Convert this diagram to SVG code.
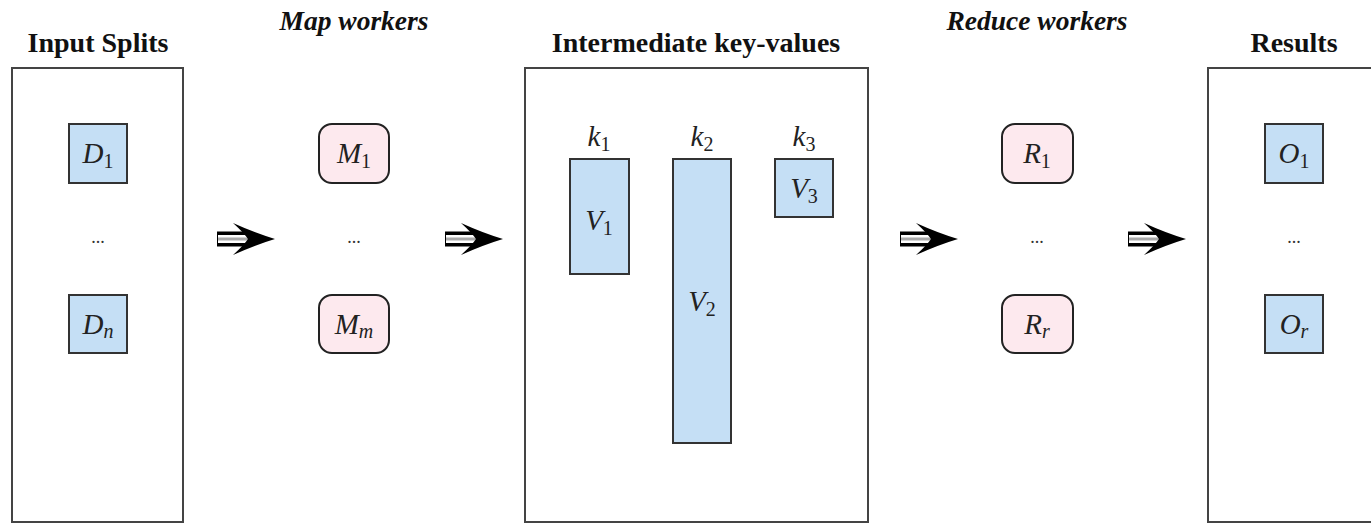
<svg xmlns="http://www.w3.org/2000/svg" xmlns:xlink="http://www.w3.org/1999/xlink" width="1371" height="524" viewBox="0 0 1371 524">
<style>
.hdr{font-family:"Liberation Serif",serif;font-weight:bold;font-size:28px;fill:#111;text-anchor:middle}
.hdri{font-family:"Liberation Serif",serif;font-weight:bold;font-style:italic;font-size:27.5px;fill:#111;text-anchor:middle}
.frame{fill:#fff;stroke:#444;stroke-width:2}
.blue{fill:#c5dff5;stroke:#333;stroke-width:2}
.pink{fill:#fde9ee;stroke:#222;stroke-width:2}
.m{font-family:"Liberation Serif",serif;font-style:italic;font-size:29px;fill:#222;text-anchor:middle}
.sub{font-style:normal;font-size:20px}
.subi{font-size:20px}
.dots{font-family:"Liberation Serif",serif;font-size:18px;fill:#333;text-anchor:middle}
</style>
<defs>
<g id="arr">
<line x1="-58" y1="0" x2="-24" y2="0" stroke="#000" stroke-width="15"/>
<line x1="-57" y1="0" x2="-24" y2="0" stroke="#fff" stroke-width="8"/>
<line x1="-57" y1="0" x2="-24" y2="0" stroke="#aaa" stroke-width="3"/>
<path d="M0 0 Q-20 -6 -42 -16 Q-31 -6 -27 0 Q-31 6 -42 16 Q-20 6 0 0 Z" fill="#000"/>
</g>
</defs>
<rect width="1371" height="524" fill="#fff"/>

<g id="input-splits">
<text class="hdr" x="98" y="52">Input Splits</text>
<rect class="frame" x="12" y="68" width="171" height="454"/>
<g id="D1"><rect class="blue" x="69" y="124" width="58" height="59"/><text class="m" x="98" y="163">D<tspan class="sub" dy="5">1</tspan></text></g>
<text class="dots" x="98" y="243">...</text>
<g id="Dn"><rect class="blue" x="69" y="295" width="58" height="58"/><text class="m" x="98" y="334">D<tspan class="subi" dy="4">n</tspan></text></g>
</g>

<g id="map-workers">
<text class="hdri" x="354" y="30">Map workers</text>
<g id="M1"><rect class="pink" x="319" y="124" width="70" height="59" rx="13"/><text class="m" x="354" y="163">M<tspan class="sub" dy="5">1</tspan></text></g>
<text class="dots" x="354" y="243">...</text>
<g id="Mm"><rect class="pink" x="319" y="295" width="70" height="58" rx="13"/><text class="m" x="354" y="334">M<tspan class="subi" dy="4">m</tspan></text></g>
</g>

<g id="intermediate">
<text class="hdr" x="696" y="52">Intermediate key-values</text>
<rect class="frame" x="525" y="68" width="343" height="454"/>
<text class="m" x="599" y="146">k<tspan class="sub" dy="5">1</tspan></text>
<text class="m" x="702" y="146">k<tspan class="sub" dy="5">2</tspan></text>
<text class="m" x="804" y="146">k<tspan class="sub" dy="5">3</tspan></text>
<g id="V1"><rect class="blue" x="570" y="159" width="59" height="115"/><text class="m" x="599" y="230">V<tspan class="sub" dy="5">1</tspan></text></g>
<g id="V2"><rect class="blue" x="673" y="159" width="58" height="284"/><text class="m" x="702" y="311">V<tspan class="sub" dy="5">2</tspan></text></g>
<g id="V3"><rect class="blue" x="775" y="159" width="58" height="58"/><text class="m" x="804" y="198">V<tspan class="sub" dy="5">3</tspan></text></g>
</g>

<g id="reduce-workers">
<text class="hdri" x="1037" y="30">Reduce workers</text>
<g id="R1"><rect class="pink" x="1002" y="124" width="71" height="59" rx="13"/><text class="m" x="1037" y="163">R<tspan class="sub" dy="5">1</tspan></text></g>
<text class="dots" x="1037" y="243">...</text>
<g id="Rr"><rect class="pink" x="1002" y="295" width="71" height="58" rx="13"/><text class="m" x="1037" y="334">R<tspan class="subi" dy="4">r</tspan></text></g>
</g>

<g id="results">
<text class="hdr" x="1294" y="52">Results</text>
<rect class="frame" x="1208" y="68" width="172" height="454"/>
<g id="O1"><rect class="blue" x="1265" y="124" width="58" height="59"/><text class="m" x="1294" y="163">O<tspan class="sub" dy="5">1</tspan></text></g>
<text class="dots" x="1294" y="243">...</text>
<g id="Or"><rect class="blue" x="1265" y="295" width="58" height="58"/><text class="m" x="1294" y="334">O<tspan class="subi" dy="4">r</tspan></text></g>
</g>

<g id="connectors">
<use xlink:href="#arr" transform="translate(275,239)"/>
<use xlink:href="#arr" transform="translate(503,239)"/>
<use xlink:href="#arr" transform="translate(958,239)"/>
<use xlink:href="#arr" transform="translate(1186,239)"/>
</g>
</svg>
